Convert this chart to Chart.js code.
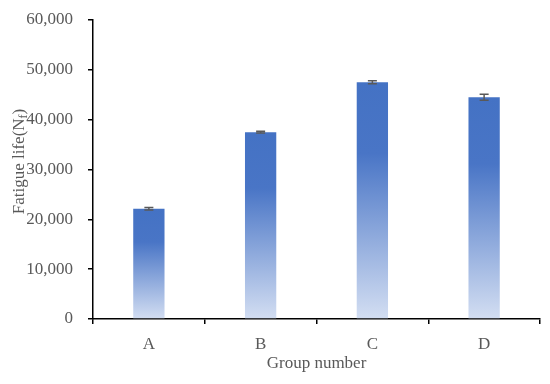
<!DOCTYPE html>
<html>
<head>
<meta charset="utf-8">
<script src="https://cdn.jsdelivr.net/npm/chart.js@4/dist/chart.umd.min.js"></script>
<style>
    html, body { margin: 0; padding: 0; background: #fff; }
    #wrap { width: 550px; height: 384px; }
</style>
</head>
<body>
<div id="wrap"><canvas id="fatigueChart"></canvas></div>
<script>
// ----- DATA -----
const groups = ["A", "B", "C", "D"];
const fatigueLife = [22100, 37500, 47500, 44500];
const fatigueErr = [250, 200, 300, 600];
const yTicks = [0, 10000, 20000, 30000, 40000, 50000, 60000];

const textGray = "#595959";
const fontFamily = "'Liberation Serif', 'DejaVu Serif', serif";


// ----- GRADIENT PER BAR -----
function barGradient(context) {
    const chart = context.chart;
    const area = chart.chartArea;
    if (!area || context.raw === undefined) return "#4472C4";

    const y = chart.scales.y;
    const top = y.getPixelForValue(context.raw);
    const bottom = y.getPixelForValue(0);
    const g = chart.ctx.createLinearGradient(0, top, 0, bottom);
    g.addColorStop(0, "#4472C4");
    g.addColorStop(0.3, "#4975C6");
    g.addColorStop(1, "#D3DEF2");
    return g;
}


// ----- ERROR BARS -----
const errorBars = {
    id: "errorBars",
    afterDatasetsDraw(chart) {
        const ctx = chart.ctx;
        const y = chart.scales.y;
        const meta = chart.getDatasetMeta(0);

        ctx.save();
        ctx.strokeStyle = "#595959";
        ctx.lineWidth = 1.5;
        meta.data.forEach((bar, i) => {
            const hi = y.getPixelForValue(fatigueLife[i] + fatigueErr[i]);
            const lo = y.getPixelForValue(fatigueLife[i] - fatigueErr[i]);
            ctx.beginPath();
            ctx.moveTo(bar.x, hi);
            ctx.lineTo(bar.x, lo);
            ctx.moveTo(bar.x - 4.5, hi);
            ctx.lineTo(bar.x + 4.5, hi);
            ctx.moveTo(bar.x - 4.5, lo);
            ctx.lineTo(bar.x + 4.5, lo);
            ctx.stroke();
        });
        ctx.restore();
    }
};


// ----- Y TITLE WITH SUBSCRIPT -----
const yTitle = {
    id: "yTitle",
    afterDraw(chart) {
        const ctx = chart.ctx;
        const area = chart.chartArea;
        const main = "Fatigue life(N";
        const sub = "f";
        const end = ")";

        ctx.save();
        ctx.fillStyle = textGray;
        ctx.textBaseline = "middle";
        ctx.font = "17px " + fontFamily;
        const w1 = ctx.measureText(main).width;
        const w3 = ctx.measureText(end).width;
        ctx.font = "12px " + fontFamily;
        const w2 = ctx.measureText(sub).width;
        const total = w1 + w2 + w3;

        ctx.translate(20, (area.top + area.bottom) / 2 - 8);
        ctx.rotate(-Math.PI / 2);
        let x = -total / 2;
        ctx.textAlign = "left";
        ctx.font = "17px " + fontFamily;
        ctx.fillText(main, x, 0);
        x += w1;
        ctx.font = "12px " + fontFamily;
        ctx.fillText(sub, x, 4);
        x += w2;
        ctx.font = "17px " + fontFamily;
        ctx.fillText(end, x, 0);
        ctx.restore();
    }
};


// ----- CHART -----
const ctx = document.getElementById("fatigueChart").getContext("2d");

new Chart(ctx, {
    type: "bar",
    data: {
        labels: groups,
        datasets: [{
            data: fatigueLife,
            backgroundColor: barGradient,
            borderWidth: 0,
            categoryPercentage: 1,
            barPercentage: 0.28
        }]
    },
    options: {
        responsive: true,
        maintainAspectRatio: false,
        animation: false,
        layout: { padding: { top: 20, right: 10, left: 0, bottom: 0 } },
        plugins: {
            legend: { display: false },
            tooltip: { enabled: false }
        },
        scales: {
            x: {
                grid: {
                    offset: true,
                    drawOnChartArea: false,
                    color: "#000",
                    tickLength: 5,
                    lineWidth: 1.5
                },
                border: { color: "#000", width: 1.5 },
                ticks: {
                    color: textGray,
                    padding: 10,
                    font: { family: fontFamily, size: 17 }
                },
                title: {
                    display: true,
                    text: "Group number",
                    color: textGray,
                    padding: { top: 0, bottom: 10 },
                    font: { family: fontFamily, size: 17 }
                },
                afterFit(scale) { scale.height = 65; }
            },
            y: {
                min: 0,
                max: 60000,
                afterBuildTicks(scale) {
                    scale.ticks = yTicks.map(v => ({ value: v }));
                },
                grid: {
                    drawOnChartArea: false,
                    color: "#000",
                    tickLength: 5,
                    lineWidth: 1.5
                },
                border: { color: "#000", width: 1.5 },
                ticks: {
                    color: textGray,
                    padding: 15,
                    font: { family: fontFamily, size: 17 },
                    callback: v => v.toLocaleString("en-US")
                },
                afterFit(scale) {
                    scale.width = 93;
                    scale.paddingTop = 0;
                    scale.paddingBottom = 0;
                }
            }
        }
    },
    plugins: [errorBars, yTitle]
});
</script>
</body>
</html>
